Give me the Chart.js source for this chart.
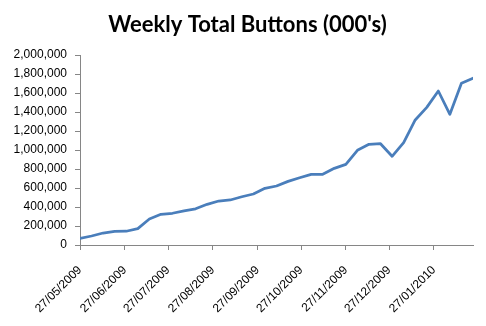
<!DOCTYPE html>
<html>
<head>
<meta charset="utf-8">
<script src="https://cdn.jsdelivr.net/npm/chart.js@4"></script>
<style>
  html, body { margin: 0; padding: 0; background: #ffffff; }
  #c { display: block; }
</style>
</head>
<body>
<canvas id="c" width="486" height="326"></canvas>
<script>
// ---- data ----
const chartTitle = "Weekly Total Buttons (000's)";
const pointDates = [
  '27/05/2009','04/06/2009','12/06/2009','20/06/2009','28/06/2009','06/07/2009','14/07/2009',
  '22/07/2009','30/07/2009','07/08/2009','15/08/2009','23/08/2009','31/08/2009','08/09/2009',
  '16/09/2009','24/09/2009','02/10/2009','10/10/2009','18/10/2009','26/10/2009','03/11/2009',
  '11/11/2009','19/11/2009','27/11/2009','05/12/2009','13/12/2009','21/12/2009','29/12/2009',
  '06/01/2010','14/01/2010','22/01/2010','30/01/2010','07/02/2010','15/02/2010','23/02/2010'
];
const buttonTotals = [
  70000, 95000, 126000, 144000, 145000, 172000, 274000,
  323000, 334000, 360000, 381000, 428000, 463000, 474000,
  508000, 537000, 597000, 621000, 670000, 708000, 744000,
  744000, 807000, 849000, 997000, 1060000, 1066000, 934000,
  1077000, 1316000, 1449000, 1621000, 1376000, 1702000, 1755000
];
const xTickLabels = [
  '27/05/2009','27/06/2009','27/07/2009','27/08/2009','27/09/2009',
  '27/10/2009','27/11/2009','27/12/2009','27/01/2010'
];
const yMin = 0, yMax = 2000000, yStep = 200000;

// ---- helpers ----
function toDay(s) {
  const [d, m, y] = s.split('/').map(Number);
  return Date.UTC(y, m - 1, d) / 86400000;
}
const day0 = toDay(pointDates[0]);
const points = pointDates.map((d, i) => ({ x: toDay(d) - day0, y: buttonTotals[i] }));
const xTickValues = xTickLabels.map(d => toDay(d) - day0);

const axisColor = '#868686';
const labelFont = { family: '"Liberation Sans", Arial, sans-serif', size: 12 };

new Chart(document.getElementById('c'), {
  type: 'line',
  data: {
    datasets: [{
      data: points,
      borderColor: '#4A7EBB',
      borderWidth: 2.75,
      pointRadius: 0,
      pointHoverRadius: 0,
      tension: 0,
      fill: false,
      borderJoinStyle: 'round',
      borderCapStyle: 'round'
    }]
  },
  options: {
    responsive: false,
    devicePixelRatio: 1,
    animation: false,
    layout: { padding: { left: 13, right: 4, top: 0, bottom: 0 } },
    plugins: {
      legend: { display: false },
      tooltip: { enabled: false },
      title: {
        display: true,
        text: chartTitle,
        color: '#000000',
        font: { family: 'Lato, "Open Sans", sans-serif', size: 22, weight: 'bold', lineHeight: 1.2 },
        padding: { top: 12, bottom: 16.6 }
      }
    },
    scales: {
      x: {
        type: 'linear',
        min: 0,
        max: points[points.length - 1].x,
        afterBuildTicks: (scale) => { scale.ticks = xTickValues.map(v => ({ value: v })); },
        afterFit: (scale) => { scale.height = 81; },
        grid: { drawOnChartArea: false, drawTicks: true, tickLength: 5, color: axisColor, lineWidth: 1 },
        border: { display: true, color: axisColor, width: 1 },
        ticks: {
          autoSkip: false,
          minRotation: 45,
          maxRotation: 45,
          padding: 13,
          color: '#000000',
          font: labelFont,
          callback: (v, i) => xTickLabels[i]
        }
      },
      y: {
        min: yMin,
        max: yMax,
        afterFit: (scale) => { scale.width = 67; },
        grid: { drawOnChartArea: false, drawTicks: true, tickLength: 5, color: axisColor, lineWidth: 1 },
        border: { display: true, color: axisColor, width: 1 },
        ticks: {
          stepSize: yStep,
          padding: 8,
          color: '#000000',
          font: labelFont,
          callback: (v) => Number(v).toLocaleString('en-US')
        }
      },
      yRightGap: {
        position: 'right',
        display: true,
        afterFit: (scale) => { scale.width = 9; },
        grid: { display: false, drawTicks: false },
        border: { display: false },
        ticks: { display: false }
      }
    }
  }
});
</script>
</body>
</html>
